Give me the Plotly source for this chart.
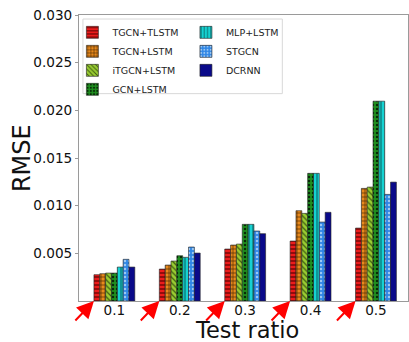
import plotly.graph_objects as go

# Test ratios on the x axis
ratios = ["0.1", "0.2", "0.3", "0.4", "0.5"]

# RMSE per model for each test ratio
tgcn_tlstm = [0.00276, 0.00335, 0.00545, 0.00629, 0.00765]
tgcn_lstm = [0.00286, 0.00377, 0.00587, 0.00947, 0.01181]
itgcn_lstm = [0.00293, 0.00419, 0.00597, 0.00919, 0.01195]
gcn_lstm = [0.00293, 0.00475, 0.00804, 0.01339, 0.02096]
mlp_lstm = [0.00356, 0.00458, 0.00804, 0.01339, 0.02096]
stgcn = [0.00437, 0.00566, 0.00734, 0.00828, 0.01118]
dcrnn = [0.00356, 0.00503, 0.00706, 0.00930, 0.01247]

y_tickvals = [0.005, 0.010, 0.015, 0.020, 0.025, 0.030]
y_ticktext = ["0.005", "0.010", "0.015", "0.020", "0.025", "0.030"]

FONT = "DejaVu Sans"
BARGAP = 0.375

series = [
    ("TGCN+TLSTM", tgcn_tlstm, "#ec1c1c", "-", "#5a0000", "legend"),
    ("TGCN+LSTM", tgcn_lstm, "#e8891c", "+", "#4a2800", "legend"),
    ("iTGCN+LSTM", itgcn_lstm, "#9acd32", "\\", "#3c5a10", "legend"),
    ("GCN+LSTM", gcn_lstm, "#1f8f1f", ".", "#062a06", "legend"),
    ("MLP+LSTM", mlp_lstm, "#16d2d2", "|", "#0a6e6e", "legend2"),
    ("STGCN", stgcn, "#2f86e6", ".", "#9cc8f2", "legend2"),
    ("DCRNN", dcrnn, "#0a0a8a", "", "#000050", "legend2"),
]

fig = go.Figure()
for name, vals, color, shape, fg, leg in series:
    fig.add_trace(go.Bar(
        name=name,
        x=ratios,
        y=vals,
        legend=leg,
        marker=dict(
            color=color,
            line=dict(color="#222222", width=0.6),
            pattern=dict(shape=shape, fgcolor=fg, bgcolor=color,
                         size=4, solidity=0.3, fillmode="replace"),
        ),
    ))

# Red arrows pointing at the lower-left corner of each group
group_half = (1 - BARGAP) / 2
for i, _ in enumerate(ratios):
    fig.add_annotation(
        x=i - group_half, y=0, xref="x", yref="y",
        text="", showarrow=True,
        ax=-20, ay=21,
        arrowhead=2, arrowsize=1.7, arrowwidth=2,
        arrowcolor="#ff0000", standoff=0,
    )

# Axis titles
fig.add_annotation(
    text="RMSE", xref="paper", yref="paper", x=-0.173, y=0.5,
    xanchor="center", yanchor="middle", textangle=-90, showarrow=False,
    font=dict(family=FONT, size=24, color="#111111"),
)
fig.add_annotation(
    text="Test ratio", xref="paper", yref="paper", x=0.51, y=-0.102,
    xanchor="center", yanchor="middle", showarrow=False,
    font=dict(family=FONT, size=22.5, color="#111111"),
)

# Legend frame
fig.add_shape(
    type="rect", xref="paper", yref="paper",
    x0=0.012, x1=0.618, y0=0.725, y1=0.986,
    fillcolor="white", line=dict(color="#d8d8d8", width=1), layer="above",
)

legend_common = dict(
    bgcolor="rgba(0,0,0,0)", borderwidth=0,
    font=dict(family=FONT, size=9.5, color="#222222"),
    yanchor="top", xanchor="left", orientation="v",
    tracegroupgap=0,
)

fig.update_layout(
    width=409, height=342,
    margin=dict(l=79, r=1, t=15, b=41),
    paper_bgcolor="white", plot_bgcolor="white",
    barmode="group", bargap=BARGAP, bargroupgap=0,
    font=dict(family=FONT, color="#111111"),
    legend=dict(x=-0.02, y=0.99, **legend_common),
    legend2=dict(x=0.325, y=0.99, **legend_common),
    xaxis=dict(
        type="category", range=[-0.541, 4.49],
        showline=True, linecolor="#9a9a9a", linewidth=1, mirror=True,
        ticks="", showgrid=False, ticklabelstandoff=-3,
        tickfont=dict(family=FONT, size=13.6, color="#111111"),
    ),
    yaxis=dict(
        range=[0, 0.030],
        tickvals=y_tickvals, ticktext=y_ticktext,
        showline=True, linecolor="#9a9a9a", linewidth=1, mirror=True,
        ticks="outside", ticklen=3, tickcolor="#9a9a9a",
        showgrid=False, zeroline=False,
        tickfont=dict(family=FONT, size=13.6, color="#111111"),
    ),
)

fig.write_html("out.html")
